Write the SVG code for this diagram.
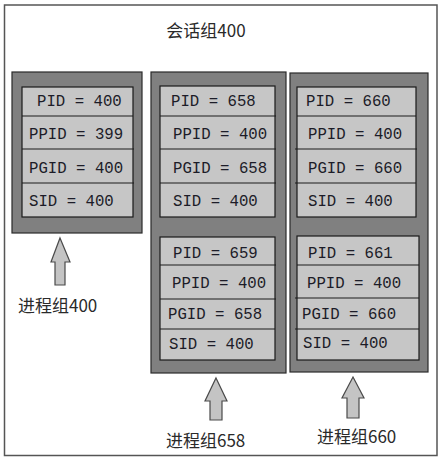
<svg xmlns="http://www.w3.org/2000/svg" width="443" height="460" viewBox="0 0 443 460">
<style>
.frame{fill:#fff;stroke:#555;stroke-width:1.5}
.grp{fill:#808080;stroke:#2a2a2a;stroke-width:1.2}
.box{fill:#c6c6c6;stroke:#1a1a1a;stroke-width:1.2}
.div{stroke:#1a1a1a;stroke-width:1.2}
.t{font-family:"Liberation Mono","DejaVu Sans Mono",monospace;font-size:15.7px;fill:#1c1c28}
.cn{font-family:"Noto Sans CJK SC","Noto Sans",sans-serif;font-size:17px;fill:#2a2a2a}
.arr{fill:#c4c4c4;stroke:#4a4a4a;stroke-width:1.2}
</style>
<rect class="frame" x="4.5" y="5" width="432.5" height="450.5"/>
<text class="cn" x="206" y="37" text-anchor="middle">会话组400</text>

<g id="group400">
<rect class="grp" x="12" y="72" width="130" height="161"/>
<g id="proc400">
<rect class="box" x="22" y="87" width="111" height="130"/>
<line class="div" x1="22" y1="116" x2="133" y2="116"/>
<line class="div" x1="22" y1="149" x2="134" y2="149"/>
<line class="div" x1="22" y1="183" x2="134" y2="183"/>
<text class="t" x="37" y="106">PID = 400</text>
<text class="t" x="29" y="139">PPID = 399</text>
<text class="t" x="29" y="173">PGID = 400</text>
<text class="t" x="29" y="206">SID = 400</text>
</g>
</g>

<g id="group658">
<rect class="grp" x="151" y="72" width="135" height="301"/>
<g id="proc658">
<rect class="box" x="160" y="86" width="115" height="131"/>
<line class="div" x1="160" y1="116" x2="276" y2="116"/>
<line class="div" x1="160" y1="149" x2="276" y2="149"/>
<line class="div" x1="160" y1="183" x2="276" y2="183"/>
<text class="t" x="171" y="106">PID = 658</text>
<text class="t" x="173" y="139">PPID = 400</text>
<text class="t" x="173" y="173">PGID = 658</text>
<text class="t" x="173" y="206">SID = 400</text>
</g>
<g id="proc659">
<rect class="box" x="160" y="237" width="115" height="123"/>
<line class="div" x1="160" y1="265" x2="276" y2="265"/>
<line class="div" x1="160" y1="299" x2="276" y2="299" stroke="#666" stroke-width="1.8"/>
<line class="div" x1="160" y1="329" x2="275" y2="329"/>
<text class="t" x="173" y="258">PID = 659</text>
<text class="t" x="172" y="288">PPID = 400</text>
<text class="t" x="168" y="319">PGID = 658</text>
<text class="t" x="169" y="349">SID = 400</text>
</g>
</g>

<g id="group660">
<rect class="grp" x="290" y="73" width="138" height="299"/>
<g id="proc660">
<rect class="box" x="297" y="87" width="119" height="130"/>
<line class="div" x1="297" y1="116" x2="416" y2="116"/>
<line class="div" x1="295" y1="149" x2="417" y2="149"/>
<line class="div" x1="295" y1="183" x2="416" y2="183"/>
<text class="t" x="306" y="106">PID = 660</text>
<text class="t" x="308" y="139">PPID = 400</text>
<text class="t" x="308" y="173">PGID = 660</text>
<text class="t" x="308" y="206">SID = 400</text>
</g>
<g id="proc661">
<rect class="box" x="297" y="236" width="122" height="124"/>
<line class="div" x1="297" y1="265" x2="419" y2="265"/>
<line class="div" x1="295" y1="298" x2="419" y2="298"/>
<line class="div" x1="295" y1="329" x2="419" y2="329"/>
<text class="t" x="308" y="258">PID = 661</text>
<text class="t" x="307" y="288">PPID = 400</text>
<text class="t" x="302" y="319">PGID = 660</text>
<text class="t" x="303" y="348">SID = 400</text>
</g>
</g>

<g id="connectors">
<polygon class="arr" points="60,238 70,262 65,262 65,285 55,285 55,262 51,262"/>
<polygon class="arr" points="216,378 227,401 222,401 222,420 210,420 210,401 205,401"/>
<polygon class="arr" points="353,377 364,398 359,398 359,418 347,418 347,398 342,398"/>
</g>

<text class="cn" x="18" y="312">进程组400</text>
<text class="cn" x="166" y="447">进程组658</text>
<text class="cn" x="317" y="443">进程组660</text>
</svg>
